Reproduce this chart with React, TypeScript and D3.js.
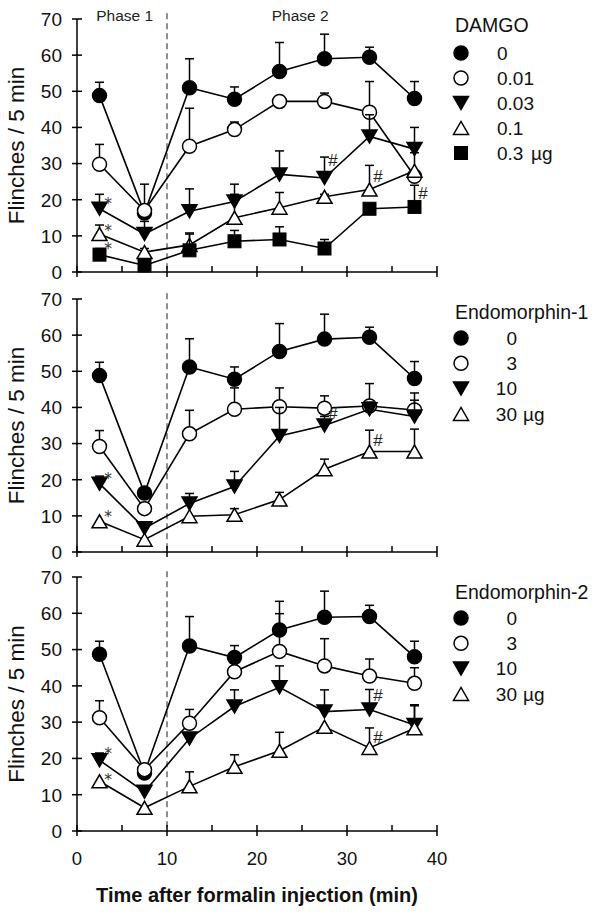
import React from "react";
import * as d3 from "d3";

// ---------- data ----------
const times = [2.5, 7.5, 12.5, 17.5, 22.5, 27.5, 32.5, 37.5];
const xTicks = [0, 10, 20, 30, 40];
const xMinorTicks = [5, 15, 25, 35];
const yTicks = [0, 10, 20, 30, 40, 50, 60, 70];
const phaseLabels = ["Phase 1", "Phase 2"];
const phaseCenters = [5.3, 24.8];
const phaseBoundary = 10;
const yTitle = "Flinches / 5 min";
const xTitle = "Time after formalin injection (min)";
const unit = "µg";

// DAMGO
const damgoTitle = "DAMGO";
const damgoDoses = ["0", "0.01", "0.03", "0.1", "0.3"];
const damgoMeans = [
  [48.8, 16.3, 51, 47.8, 55.5, 59, 59.4, 48],
  [29.8, 17, 34.8, 39.4, 47.2, 47.2, 44.2, 26.5],
  [17.5, 10.5, 16.8, 19.5, 27, 26, 37.5, 34],
  [10.5, 5.5, 7.5, 15, 17.8, 20.8, 22.8, 28],
  [4.8, 1.8, 6, 8.5, 9, 6.5, 17.5, 18],
];
const damgoErr = [
  [52.5, null, 59, 51.2, 63.5, 65.8, 62.2, 52.7],
  [35.3, 24.3, 45.3, 41.5, 47.5, 49.5, 52.7, null],
  [21.5, 14, 23, 24.3, 33.5, 31.8, 43.5, 40],
  [13, 6.5, 10.5, 21.5, 22, 21.5, 29.5, 33],
  [6.5, 2.5, 10.8, 11.5, 12.5, 9, null, 24],
];
// significance marks: [time index, y value]
const damgoStars = [[0, 19.9], [0, 12.5], [0, 7.3]];
const damgoHashes = [[5, 31.0], [6, 26.6], [7, 21.9]];

// Endomorphin-1
const endo1Title = "Endomorphin-1";
const endo1Doses = ["0", "3", "10", "30"];
const endo1Means = [
  [48.8, 16.3, 51.2, 47.8, 55.5, 58.9, 59.4, 48],
  [29.2, 12, 32.7, 39.5, 40.2, 39.8, 40.4, 39.3],
  [18.9, 6.6, 13.4, 18.1, 32.1, 35, 39.5, 37.5],
  [8.5, 3.4, 9.9, 10.3, 14.5, 22.9, 27.8, 27.8],
];
const endo1Err = [
  [52.5, null, 59, 51.2, 63.2, 65.8, 62.2, 52.7],
  [33.6, null, 39.2, 45.4, 45.4, 43.2, 46.6, 44],
  [21, 8.3, 16.2, 22.3, 40, 37.5, 41.5, 42],
  [null, null, null, 12, 16.5, 25.7, 33.7, 34],
];
const endo1Stars = [[0, 21.3], [0, 10.8]];
const endo1Hashes = [[5, 38.5], [6, 31.0]];

// Endomorphin-2
const endo2Title = "Endomorphin-2";
const endo2Doses = ["0", "3", "10", "30"];
const endo2Means = [
  [48.7, 16, 51, 47.8, 55.4, 58.9, 59.1, 48],
  [31.2, 16.9, 29.7, 43.9, 49.5, 45.5, 42.7, 40.7],
  [19.5, 10.8, 25.5, 34.3, 39.6, 32.9, 33.5, 29.2],
  [13.7, 6.4, 12.3, 17.7, 22.1, 28.7, 22.9, 28.3],
];
const endo2Err = [
  [52.3, null, 59.1, 51.1, 63.3, 66.1, 62.2, 52.3],
  [35.9, 18, 33.5, 47, 59.9, 53, 47.4, 45],
  [21.5, null, null, 38.9, 45.5, 38.9, 39, 34.5],
  [null, null, 16.3, 21, 27.2, null, 28.4, 34.8],
];
const endo2Stars = [[0, 22.3], [0, 15.2]];
const endo2Hashes = [[6, 37.5], [6, 25.9]];

// ---------- layout ----------
const FONT = "'Liberation Sans', Arial, sans-serif";
const MARK_FONT = "'DejaVu Sans', sans-serif";
const X0 = 77;
const X1 = 437;
const shapes = ["circleFilled", "circleOpen", "triDown", "triUp", "square"];

type PanelDef = {
  top: number;
  bottom: number;
  title: string;
  doses: string[];
  means: number[][];
  errs: (number | null)[][];
  stars: number[][];
  hashes: number[][];
  titleY: number;
  rowY0: number;
  rowStep: number;
  rightAlign: boolean;
  showPhase: boolean;
  showXLabels: boolean;
};

const panels: PanelDef[] = [
  { top: 19, bottom: 272, title: damgoTitle, doses: damgoDoses, means: damgoMeans, errs: damgoErr, stars: damgoStars, hashes: damgoHashes, titleY: 25, rowY0: 53, rowStep: 25, rightAlign: false, showPhase: true, showXLabels: false },
  { top: 299, bottom: 552, title: endo1Title, doses: endo1Doses, means: endo1Means, errs: endo1Err, stars: endo1Stars, hashes: endo1Hashes, titleY: 312, rowY0: 338, rowStep: 25.3, rightAlign: true, showPhase: false, showXLabels: false },
  { top: 577, bottom: 831, title: endo2Title, doses: endo2Doses, means: endo2Means, errs: endo2Err, stars: endo2Stars, hashes: endo2Hashes, titleY: 592, rowY0: 618, rowStep: 25.3, rightAlign: true, showPhase: false, showXLabels: true },
];

function Marker({ shape, cx, cy }: { shape: string; cx: number; cy: number }) {
  const sw = 1.5;
  if (shape === "circleFilled" || shape === "circleOpen") {
    return <circle cx={cx} cy={cy} r={7} fill={shape === "circleFilled" ? "#000" : "#fff"} stroke="#000" strokeWidth={sw} />;
  }
  if (shape === "square") {
    return <rect x={cx - 6.5} y={cy - 6.5} width={13} height={13} fill="#000" stroke="#000" strokeWidth={1} />;
  }
  const w = 7.5;
  const h = 6.5;
  const pts = shape === "triDown"
    ? [[cx - w, cy - h], [cx + w, cy - h], [cx, cy + h]]
    : [[cx - w, cy + h], [cx + w, cy + h], [cx, cy - h]];
  return (
    <polygon
      points={pts.map((p) => p.join(",")).join(" ")}
      fill={shape === "triDown" ? "#000" : "#fff"}
      stroke="#000"
      strokeWidth={sw}
      strokeLinejoin="miter"
    />
  );
}

function Panel({ p }: { p: PanelDef }) {
  const x = d3.scaleLinear().domain([0, 40]).range([X0, X1]);
  const y = d3.scaleLinear().domain([0, 70]).range([p.bottom, p.top]);
  const line = d3
    .line<number>()
    .x((_, i) => x(times[i]))
    .y((d) => y(d));
  const midY = (p.top + p.bottom) / 2;
  const starFs = 15.5;
  const hashFs = 17;
  return (
    <g>
      {/* dashed phase boundary */}
      <line x1={x(phaseBoundary)} x2={x(phaseBoundary)} y1={y(71.6)} y2={y(0)} stroke="#444" strokeWidth={1.2} strokeDasharray="6,4" />
      {/* axes */}
      <line x1={X0} x2={X0} y1={y(0)} y2={y(70)} stroke="#000" strokeWidth={1.5} />
      <line x1={X0} x2={X1} y1={y(0)} y2={y(0)} stroke="#000" strokeWidth={1.5} />
      {yTicks.map((t) => (
        <g key={"yt" + t}>
          <line x1={X0 - 5} x2={X0 + 5} y1={y(t)} y2={y(t)} stroke="#000" strokeWidth={1.5} />
          <text x={62} y={y(t)} dy="0.36em" textAnchor="end" fontSize={19} fontFamily={FONT} fill="#111">
            {t}
          </text>
        </g>
      ))}
      {xTicks.map((t) => (
        <line key={"xt" + t} x1={x(t)} x2={x(t)} y1={y(0) - 6} y2={y(0) + 5} stroke="#000" strokeWidth={1.5} />
      ))}
      {xMinorTicks.map((t) => (
        <line key={"xm" + t} x1={x(t)} x2={x(t)} y1={y(0) - 6} y2={y(0)} stroke="#000" strokeWidth={1.5} />
      ))}
      {p.showXLabels &&
        xTicks.map((t) => (
          <text key={"xl" + t} x={x(t)} y={y(0) + 27} dy="0.36em" textAnchor="middle" fontSize={18.5} fontFamily={FONT} fill="#111">
            {t}
          </text>
        ))}
      {/* y title */}
      <text
        transform={`translate(16,${midY}) rotate(-90)`}
        textAnchor="middle"
        dy="0.36em"
        fontSize={22.5}
        fontFamily={FONT}
        fill="#111"
      >
        {yTitle}
      </text>
      {p.showPhase &&
        phaseLabels.map((lab, i) => (
          <text key={lab} x={x(phaseCenters[i])} y={15} dy="0.36em" textAnchor="middle" fontSize={15.5} fontFamily={FONT} fill="#222">
            {lab}
          </text>
        ))}
      {/* series */}
      {p.means.map((vals, s) => (
        <g key={"s" + s}>
          <path d={line(vals) || ""} fill="none" stroke="#000" strokeWidth={1.6} />
          {vals.map((v, i) => {
            const e = p.errs[s][i];
            if (e == null) return null;
            return (
              <g key={"e" + i}>
                <line x1={x(times[i])} x2={x(times[i])} y1={y(v)} y2={y(e)} stroke="#000" strokeWidth={1.5} />
                <line x1={x(times[i]) - 4.5} x2={x(times[i]) + 4.5} y1={y(e)} y2={y(e)} stroke="#000" strokeWidth={1.5} />
              </g>
            );
          })}
          {vals.map((v, i) => (
            <Marker key={"m" + i} shape={shapes[s]} cx={x(times[i])} cy={y(v)} />
          ))}
        </g>
      ))}
      {/* significance marks */}
      {p.stars.map(([i, v], k) => (
        <text key={"st" + k} x={x(times[i]) + 8.5} y={y(v) + 0.57 * starFs} textAnchor="middle" fontSize={starFs} fontFamily={MARK_FONT} fill="#333">
          *
        </text>
      ))}
      {p.hashes.map(([i, v], k) => (
        <text key={"h" + k} x={x(times[i]) + 8.5} y={y(v) + 0.35 * hashFs} textAnchor="middle" fontSize={hashFs} fontFamily={FONT} fill="#222">
          #
        </text>
      ))}
      {/* legend */}
      <text x={455} y={p.titleY} dy="0.36em" fontSize={19.5} fontFamily={FONT} fill="#111">
        {p.title}
      </text>
      {p.doses.map((d, k) => {
        const ry = p.rowY0 + k * p.rowStep;
        const last = k === p.doses.length - 1;
        return (
          <g key={"lg" + k}>
            <Marker shape={shapes[k]} cx={461} cy={ry} />
            {p.rightAlign ? (
              <text x={517} y={ry} dy="0.36em" textAnchor="end" fontSize={19} fontFamily={FONT} fill="#111">
                {d}
              </text>
            ) : (
              <text x={497} y={ry} dy="0.36em" fontSize={19} fontFamily={FONT} fill="#111">
                {d}
              </text>
            )}
            {last && (
              <text
                x={p.rightAlign ? 523 : 531}
                y={ry}
                dy="0.36em"
                fontSize={19}
                fontFamily={FONT}
                fill="#111"
              >
                {unit}
              </text>
            )}
          </g>
        );
      })}
    </g>
  );
}

export default function App() {
  return (
    <svg
      width={600}
      height={917}
      viewBox="0 0 600 917"
      style={{ position: "absolute", left: 0, top: 0, background: "#fff" }}
    >
      <rect width={600} height={917} fill="#fff" />
      {panels.map((p, i) => (
        <Panel key={i} p={p} />
      ))}
      <text x={257} y={895} dy="0.36em" textAnchor="middle" fontSize={20} fontWeight="bold" fontFamily={FONT} fill="#111">
        {xTitle}
      </text>
    </svg>
  );
}
